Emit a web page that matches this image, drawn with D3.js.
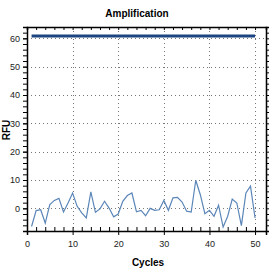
<!DOCTYPE html>
<html>
<head>
<meta charset="utf-8">
<script src="https://cdn.jsdelivr.net/npm/d3@7"></script>
<style>
  body { margin: 0; background: #fff; }
  text { font-family: "Liberation Sans Narrow", "Arial Narrow", "Liberation Sans", sans-serif; }
</style>
</head>
<body>
<div id="chart"></div>
<script>
// data
var cycles = d3.range(1, 51);
var wellHigh = cycles.map(function(){ return 60.8; });
var wellLow = [-6.4, -0.8, -0.5, -5.2, 1.3, 2.8, 3.5, -1.3, 1.9, 5.4,
               0.7, -1.6, -3.4, 5.8, -1.4, -0.2, 2.5, 0.1, -3.0, -2.0,
               2.5, 4.5, 5.4, -1.2, -0.7, -2.6, 0.0, -0.7, -0.5, 2.8,
               -0.7, 3.7, 3.9, 2.2, -1.0, -1.3, 9.9, 4.8, -1.9, -0.7,
               -2.8, 1.1, -6.6, -2.8, 3.3, 1.9, -6.1, 5.4, 7.8, -3.4];
var xTicks = [0, 10, 20, 30, 40, 50];
var yTicks = [0, 10, 20, 30, 40, 50, 60];

var W = 275, H = 275;
var margin = { left: 27, right: 9, top: 27, bottom: 44 };
var width = W - margin.left - margin.right,
    height = H - margin.top - margin.bottom;

var svg = d3.select("#chart").append("svg")
    .attr("width", W).attr("height", H);

var g = svg.append("g")
    .attr("transform", "translate(" + margin.left + "," + margin.top + ")");

var x = d3.scaleLinear().domain([0, 52.4]).range([0, width]);
var y = d3.scaleLinear().domain([-8, 64]).range([height, 0]);

// grid
g.selectAll(".vgrid").data(xTicks.slice(1)).enter().append("line")
    .attr("x1", function(d){ return Math.round(x(d)) + 0.5; })
    .attr("x2", function(d){ return Math.round(x(d)) + 0.5; })
    .attr("y1", 0).attr("y2", height)
    .attr("stroke", "#777").attr("stroke-width", 1).attr("stroke-dasharray", "1,3");
g.selectAll(".hgrid").data(yTicks).enter().append("line")
    .attr("x1", 0).attr("x2", width)
    .attr("y1", function(d){ return Math.round(y(d)) + 0.5; })
    .attr("y2", function(d){ return Math.round(y(d)) + 0.5; })
    .attr("stroke", "#777").attr("stroke-width", 1).attr("stroke-dasharray", "1,3");

// axes
var xAxis = d3.axisBottom(x).tickValues(xTicks).tickSize(4).tickPadding(6);
var xAxisG = g.append("g").attr("transform", "translate(0," + height + ")").call(xAxis);
var yAxis = d3.axisLeft(y).tickValues(yTicks).tickSize(4).tickPadding(3);
var yAxisG = g.append("g").call(yAxis);
[xAxisG, yAxisG].forEach(function(a){
    a.select(".domain").attr("stroke", "#000").attr("stroke-width", 1.5);
    a.selectAll("text").attr("font-size", "9px").attr("fill", "#222")
        .style("font-family", "'Liberation Sans Narrow', 'Arial Narrow', sans-serif");
});

// minor ticks
g.append("g").attr("transform", "translate(0," + height + ")")
    .call(d3.axisBottom(x).tickValues(d3.range(2, 52, 2)).tickSize(-4).tickFormat(""))
    .call(function(s){ s.select(".domain").remove(); });
g.append("g")
    .call(d3.axisLeft(y).tickValues(d3.range(-6, 64, 2)).tickSize(4).tickFormat(""))
    .call(function(s){ s.select(".domain").remove(); });
// top and right frame
g.append("g")
    .call(d3.axisTop(x).tickValues(d3.range(2, 52, 2)).tickSize(-3).tickFormat(""))
    .call(function(s){ s.select(".domain").attr("stroke-width", 1.5); });
g.append("g").attr("transform", "translate(" + width + ",0)")
    .call(d3.axisRight(y).tickValues(d3.range(-6, 64, 2)).tickSize(3).tickFormat(""))
    .call(function(s){ s.select(".domain").attr("stroke-width", 1.5); });

// series
var line = d3.line()
    .x(function(d, i){ return x(cycles[i]); })
    .y(function(d){ return y(d); });

g.append("path").datum(wellLow)
    .attr("d", line).attr("fill", "none")
    .attr("stroke", "#5b86b8").attr("stroke-width", 1.2);
g.append("path").datum(wellHigh)
    .attr("d", line).attr("fill", "none")
    .attr("stroke", "#1b4580").attr("stroke-width", 3);

// titles
svg.append("text").attr("x", 137).attr("y", 17)
    .attr("text-anchor", "middle").attr("font-size", "10px").attr("font-weight", "bold")
    .text("Amplification");
svg.append("text").attr("x", 148).attr("y", 266)
    .attr("text-anchor", "middle").attr("font-size", "10px").attr("font-weight", "bold")
    .text("Cycles");
svg.append("text").attr("transform", "translate(10,130) rotate(-90)")
    .attr("text-anchor", "middle").attr("font-size", "10px").attr("font-weight", "bold")
    .text("RFU");
</script>
</body>
</html>
